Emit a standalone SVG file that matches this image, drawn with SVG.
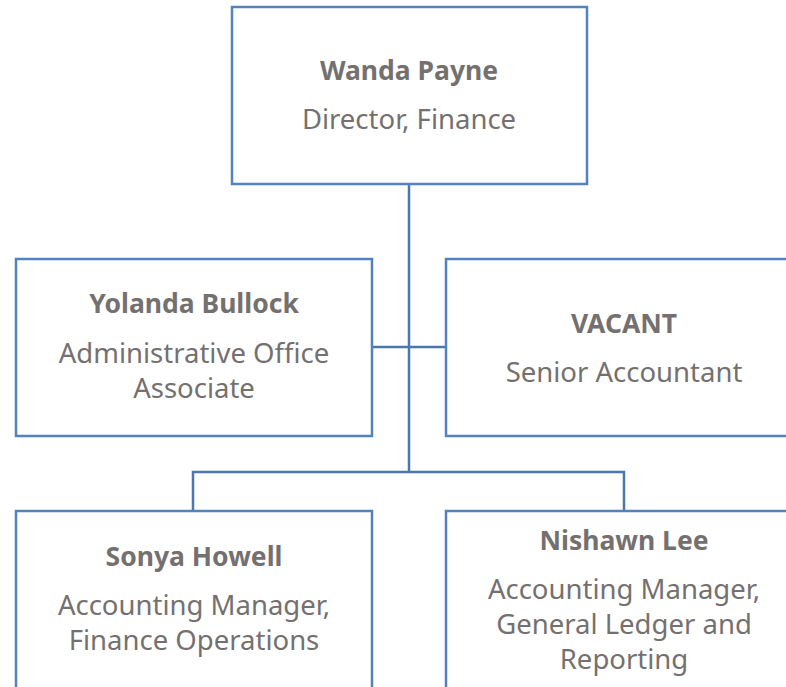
<svg xmlns="http://www.w3.org/2000/svg" width="786" height="687" viewBox="0 0 786 687">
<style>
.box{fill:#fff;stroke:#5183bf;stroke-width:2.5}
.ln{fill:none;stroke:#4a78ad;stroke-width:2.5}
text{font-family:"Noto Sans","Open Sans",sans-serif;fill:#757070;text-anchor:middle}
.n{font-weight:bold;font-size:26.5px}
.t{font-size:27.5px}
</style>
<rect width="786" height="687" fill="#fff"/>
<g id="connectors">
<path class="ln" d="M409 184V472M372 347H446M193 511V472H624V511"/>
</g>
<g id="wanda">
<rect class="box" x="232" y="7" width="355" height="177"/>
<text class="n" x="409" y="80">Wanda Payne</text>
<text class="t" x="409" y="129">Director, Finance</text>
</g>
<g id="yolanda">
<rect class="box" x="16" y="259" width="356" height="177"/>
<text class="n" x="194" y="313">Yolanda Bullock</text>
<text class="t" x="194" y="363">Administrative Office</text>
<text class="t" x="194" y="398">Associate</text>
</g>
<g id="vacant">
<rect class="box" x="446" y="259" width="360" height="177"/>
<text class="n" x="624" y="333">VACANT</text>
<text class="t" x="624" y="382">Senior Accountant</text>
</g>
<g id="sonya">
<rect class="box" x="16" y="511" width="356" height="200"/>
<text class="n" x="194" y="566">Sonya Howell</text>
<text class="t" x="194" y="615">Accounting Manager,</text>
<text class="t" x="194" y="650">Finance Operations</text>
</g>
<g id="nishawn">
<rect class="box" x="446" y="511" width="360" height="200"/>
<text class="n" x="624" y="550">Nishawn Lee</text>
<text class="t" x="624" y="599">Accounting Manager,</text>
<text class="t" x="624" y="634">General Ledger and</text>
<text class="t" x="624" y="669">Reporting</text>
</g>
</svg>
